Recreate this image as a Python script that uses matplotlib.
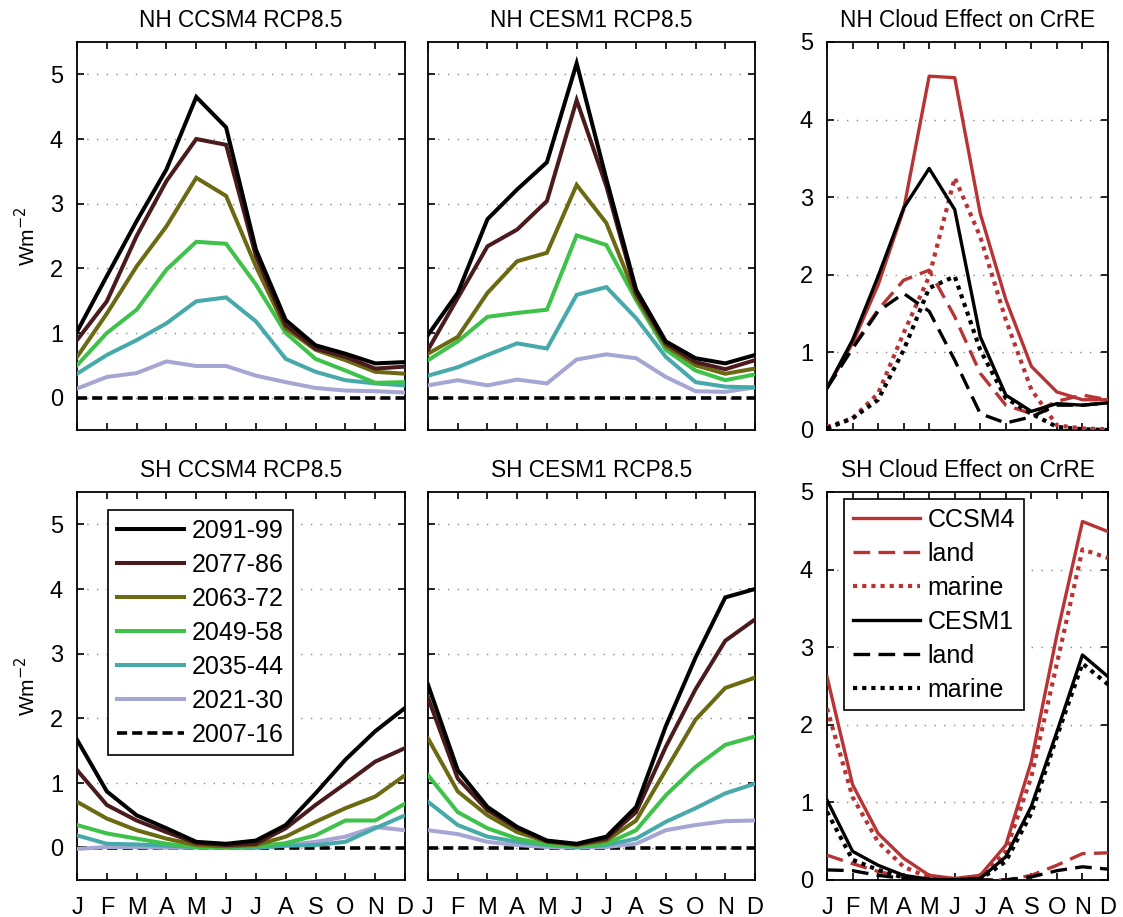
import matplotlib
matplotlib.use("Agg")
import matplotlib.pyplot as plt
import numpy as np

plt.rcParams['font.family'] = ['Liberation Sans', 'DejaVu Sans']

months = ['J', 'F', 'M', 'A', 'M', 'J', 'J', 'A', 'S', 'O', 'N', 'D']
periods = ['2091-99', '2077-86', '2063-72', '2049-58', '2035-44', '2021-30', '2007-16']

# NH CCSM4 RCP8.5
nh_ccsm4 = {
    '2091-99': [1.02, 1.88, 2.73, 3.53, 4.65, 4.18, 2.29, 1.20, 0.81, 0.68, 0.53, 0.55],
    '2077-86': [0.89, 1.49, 2.50, 3.35, 4.00, 3.91, 2.19, 1.12, 0.76, 0.63, 0.45, 0.48],
    '2063-72': [0.63, 1.30, 2.03, 2.65, 3.40, 3.12, 2.03, 1.07, 0.74, 0.58, 0.40, 0.37],
    '2049-58': [0.50, 1.00, 1.36, 1.98, 2.41, 2.38, 1.75, 1.00, 0.60, 0.42, 0.23, 0.24],
    '2035-44': [0.37, 0.66, 0.89, 1.15, 1.49, 1.55, 1.18, 0.60, 0.40, 0.27, 0.22, 0.19],
    '2021-30': [0.14, 0.32, 0.38, 0.56, 0.49, 0.49, 0.34, 0.24, 0.15, 0.11, 0.10, 0.08],
    '2007-16': [0, 0, 0, 0, 0, 0, 0, 0, 0, 0, 0, 0],
}
# NH CESM1 RCP8.5
nh_cesm1 = {
    '2091-99': [0.97, 1.62, 2.76, 3.22, 3.64, 5.17, 3.38, 1.67, 0.87, 0.61, 0.53, 0.66],
    '2077-86': [0.74, 1.54, 2.34, 2.60, 3.04, 4.60, 3.27, 1.62, 0.84, 0.55, 0.44, 0.58],
    '2063-72': [0.68, 0.94, 1.62, 2.11, 2.24, 3.29, 2.70, 1.56, 0.80, 0.50, 0.37, 0.45],
    '2049-58': [0.58, 0.87, 1.25, 1.31, 1.36, 2.51, 2.36, 1.51, 0.74, 0.42, 0.27, 0.36],
    '2035-44': [0.34, 0.47, 0.66, 0.84, 0.76, 1.59, 1.71, 1.23, 0.63, 0.24, 0.17, 0.16],
    '2021-30': [0.19, 0.27, 0.19, 0.28, 0.22, 0.59, 0.67, 0.61, 0.32, 0.10, 0.09, 0.16],
    '2007-16': [0, 0, 0, 0, 0, 0, 0, 0, 0, 0, 0, 0],
}
# SH CCSM4 RCP8.5
sh_ccsm4 = {
    '2091-99': [1.67, 0.87, 0.50, 0.30, 0.09, 0.06, 0.11, 0.35, 0.84, 1.36, 1.80, 2.16],
    '2077-86': [1.20, 0.66, 0.42, 0.24, 0.07, 0.04, 0.06, 0.30, 0.66, 0.99, 1.33, 1.54],
    '2063-72': [0.71, 0.45, 0.27, 0.14, 0.04, 0.02, 0.04, 0.17, 0.40, 0.61, 0.79, 1.12],
    '2049-58': [0.35, 0.22, 0.14, 0.06, 0.01, 0.01, 0.02, 0.07, 0.19, 0.42, 0.42, 0.68],
    '2035-44': [0.19, 0.06, 0.05, 0.03, 0.01, 0.00, 0.00, 0.03, 0.04, 0.09, 0.30, 0.50],
    '2021-30': [-0.02, 0.01, 0.01, 0.00, 0.00, 0.00, 0.00, 0.04, 0.09, 0.17, 0.32, 0.27],
    '2007-16': [0, 0, 0, 0, 0, 0, 0, 0, 0, 0, 0, 0],
}
# SH CESM1 RCP8.5
sh_cesm1 = {
    '2091-99': [2.52, 1.20, 0.63, 0.32, 0.11, 0.06, 0.17, 0.63, 1.88, 2.94, 3.87, 4.00],
    '2077-86': [2.32, 1.07, 0.58, 0.30, 0.10, 0.05, 0.14, 0.55, 1.56, 2.45, 3.20, 3.53],
    '2063-72': [1.69, 0.87, 0.50, 0.24, 0.09, 0.04, 0.11, 0.42, 1.20, 1.98, 2.47, 2.63],
    '2049-58': [1.12, 0.55, 0.30, 0.14, 0.05, 0.02, 0.06, 0.27, 0.81, 1.25, 1.59, 1.72],
    '2035-44': [0.71, 0.35, 0.17, 0.09, 0.04, 0.01, 0.04, 0.14, 0.40, 0.61, 0.84, 0.99],
    '2021-30': [0.27, 0.21, 0.09, 0.04, 0.01, 0.00, 0.01, 0.06, 0.27, 0.35, 0.41, 0.42],
    '2007-16': [0, 0, 0, 0, 0, 0, 0, 0, 0, 0, 0, 0],
}

cloud_labels = ['CCSM4', 'land', 'marine', 'CESM1', 'land', 'marine']
# NH Cloud Effect on CrRE
nh_cloud = [
    [0.54, 1.12, 1.87, 2.84, 4.56, 4.54, 2.79, 1.68, 0.82, 0.49, 0.39, 0.39],
    [0.54, 1.07, 1.55, 1.93, 2.06, 1.46, 0.73, 0.32, 0.21, 0.37, 0.45, 0.39],
    [0.04, 0.15, 0.47, 1.25, 1.98, 3.25, 2.49, 1.42, 0.52, 0.06, 0.02, 0.01],
    [0.54, 1.16, 1.98, 2.86, 3.37, 2.84, 1.20, 0.45, 0.24, 0.34, 0.32, 0.35],
    [0.54, 1.05, 1.53, 1.76, 1.53, 0.90, 0.21, 0.09, 0.17, 0.32, 0.32, 0.35],
    [0.02, 0.15, 0.39, 1.03, 1.83, 1.98, 1.03, 0.41, 0.21, 0.04, 0.01, 0.00],
]
# SH Cloud Effect on CrRE
sh_cloud = [
    [2.62, 1.23, 0.60, 0.28, 0.06, 0.02, 0.06, 0.45, 1.53, 3.16, 4.62, 4.49],
    [0.32, 0.21, 0.11, 0.04, 0.01, 0.00, 0.00, 0.00, 0.06, 0.19, 0.34, 0.35],
    [2.21, 1.07, 0.49, 0.17, 0.03, 0.01, 0.01, 0.37, 1.33, 2.79, 4.26, 4.15],
    [1.03, 0.37, 0.19, 0.06, 0.01, 0.00, 0.02, 0.30, 0.95, 1.91, 2.90, 2.62],
    [0.13, 0.12, 0.06, 0.02, 0.00, 0.00, 0.00, 0.00, 0.04, 0.12, 0.17, 0.14],
    [0.88, 0.26, 0.13, 0.03, 0.00, 0.00, 0.01, 0.24, 0.86, 1.85, 2.79, 2.52],
]

period_colors = ['#000000', '#4a1a1c', '#6b6a12', '#3fc24a', '#47a9a9', '#a6a6d4', '#000000']
cloud_colors = ['#b83333', '#b83333', '#b83333', '#000000', '#000000', '#000000']
cloud_styles = ['-', (0, (5, 2.5)), (0, (1, 1.2)), '-', (0, (5, 2.5)), (0, (1, 1.2))]

W, H = 1123, 917
fig = plt.figure(figsize=(W / 100, H / 100), dpi=100)

def ax_rect(x0, x1, y0, y1):
    return [x0 / W, 1 - y1 / H, (x1 - x0) / W, (y1 - y0) / H]

x = np.arange(1, 13)
TICK_FS = 17
TITLE_FS = 16.3
LEG_FS = 18

def style_axes(ax, ylim, yticks, show_y, show_x):
    ax.set_xlim(1, 12)
    ax.set_ylim(*ylim)
    ax.set_xticks(x)
    ax.set_yticks(yticks)
    ax.tick_params(direction='in', top=True, right=True, length=5, width=1.2,
                   labelsize=TICK_FS)
    ax.tick_params(axis='x', pad=12)
    ax.tick_params(axis='y', pad=10)
    if show_x:
        ax.set_xticklabels(months)
    else:
        ax.set_xticklabels([])
    if not show_y:
        ax.set_yticklabels([])
    for s in ax.spines.values():
        s.set_linewidth(1.3)
    for yv in yticks:
        if yv > ylim[0] and yv < ylim[1]:
            ax.axhline(yv, color='#888888', lw=1.0, ls=(0, (1, 6)), zorder=0)

def make_legend(ax, anchor):
    leg = ax.legend(loc='upper left', bbox_to_anchor=anchor,
                    borderaxespad=0, fontsize=LEG_FS, handlelength=2.7,
                    handletextpad=0.3, labelspacing=0.4, fancybox=False,
                    edgecolor='black', framealpha=1, borderpad=0.35)
    leg.get_frame().set_linewidth(1.2)

panels = [
    (nh_ccsm4, 'NH CCSM4 RCP8.5', ax_rect(77, 405, 42, 430), True, False),
    (nh_cesm1, 'NH CESM1 RCP8.5', ax_rect(428, 755, 42, 430), False, False),
    (sh_ccsm4, 'SH CCSM4 RCP8.5', ax_rect(77, 405, 492, 880), True, True),
    (sh_cesm1, 'SH CESM1 RCP8.5', ax_rect(428, 755, 492, 880), False, True),
]

for data, title, rect, show_y, show_x in panels:
    ax = fig.add_axes(rect)
    style_axes(ax, (-0.5, 5.5), [0, 1, 2, 3, 4, 5], show_y, show_x)
    for i, p in enumerate(periods):
        if p == '2007-16':
            ax.plot(x, data[p], color=period_colors[i], lw=2.6, ls=(0, (2.8, 1.4)),
                    label=p, zorder=3)
        else:
            ax.plot(x, data[p], color=period_colors[i], lw=2.9, label=p,
                    zorder=3 + (len(periods) - i) * 0.1,
                    solid_joinstyle='miter')
    ax.set_title(title, fontsize=TITLE_FS, pad=11)
    if show_y:
        ax.set_ylabel('Wm$^{-2}$', fontsize=15, labelpad=8)
    if title.startswith('SH CCSM4'):
        make_legend(ax, (0.095, 0.954))

cloud_panels = [
    (nh_cloud, 'NH Cloud Effect on CrRE', ax_rect(827, 1108, 42, 430), False),
    (sh_cloud, 'SH Cloud Effect on CrRE', ax_rect(827, 1108, 492, 880), True),
]
for data, title, rect, show_x in cloud_panels:
    ax = fig.add_axes(rect)
    style_axes(ax, (0, 5), [0, 1, 2, 3, 4, 5], True, show_x)
    for i in range(6):
        lw = 3.0 if i in (2, 5) else 2.4
        ax.plot(x, data[i], color=cloud_colors[i], ls=cloud_styles[i], lw=lw,
                label=cloud_labels[i], zorder=3)
    ax.set_title(title, fontsize=TITLE_FS, pad=11)
    if show_x:
        make_legend(ax, (0.06, 0.982))

fig.savefig('out.png', dpi=100)
